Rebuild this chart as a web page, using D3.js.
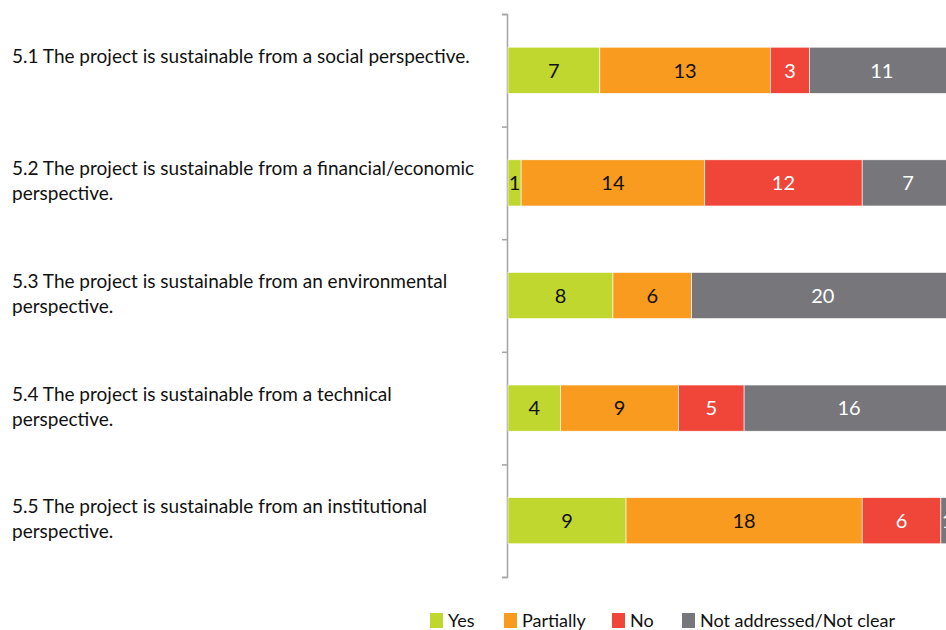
<!DOCTYPE html>
<html>
<head>
<meta charset="utf-8">
<script src="https://cdn.jsdelivr.net/npm/d3@7"></script>
<style>
  html, body { margin: 0; padding: 0; background: #fff; }
  svg { display: block; }
  text { font-family: Lato, "Noto Sans", sans-serif; }
</style>
</head>
<body>
<svg id="chart" width="946" height="630"></svg>
<script>
// Survey statements (line breaks mark how each label wraps)
const categories = [
  "5.1 The project is sustainable from a social perspective.",
  "5.2 The project is sustainable from a financial/economic\nperspective.",
  "5.3 The project is sustainable from an environmental\nperspective.",
  "5.4 The project is sustainable from a technical\nperspective.",
  "5.5 The project is sustainable from an institutional\nperspective."
];
const seriesNames = ["Yes", "Partially", "No", "Not addressed/Not clear"];
const yesValues       = [7, 1, 8, 4, 9];
const partiallyValues = [13, 14, 6, 9, 18];
const noValues        = [3, 12, 0, 5, 6];
const notClearValues  = [11, 7, 20, 16, 1];
const seriesColors = ["#c0d72f", "#f89b1e", "#ef4639", "#77777b"];
const labelColors  = ["#111", "#111", "#fff", "#fff"];

const rows = categories.map((c, i) => ({
  category: c,
  "Yes": yesValues[i],
  "Partially": partiallyValues[i],
  "No": noValues[i],
  "Not addressed/Not clear": notClearValues[i]
}));

const svg = d3.select("#chart");
const maxTotal = d3.max(rows, r => d3.sum(seriesNames, k => r[k]));

// The bars run past the right edge of the page
const x = d3.scaleLinear().domain([0, maxTotal]).range([508, 954]);
const y = d3.scaleBand().domain(categories).range([14, 577]).paddingInner(0.59).paddingOuter(0.295);
const yAxisScale = d3.scaleLinear().domain([0, categories.length]).range([14, 577]);

// Category axis: a plain line with ticks at band boundaries
svg.append("g")
  .attr("transform", "translate(507,0)")
  .call(d3.axisLeft(yAxisScale).ticks(categories.length).tickSize(5).tickFormat(""))
  .call(g => g.selectAll("path").attr("stroke", "#a7a7a9").attr("stroke-width", 1.6))
  .call(g => g.selectAll("line").attr("stroke", "#a7a7a9").attr("stroke-width", 1.6));

const stack = d3.stack().keys(seriesNames)(rows);

const layers = svg.append("g").selectAll("g")
  .data(stack)
  .join("g")
  .attr("fill", (d, i) => seriesColors[i]);

layers.selectAll("rect")
  .data(d => d.filter(p => p[1] > p[0]))
  .join("rect")
  .attr("x", d => x(d[0]))
  .attr("y", d => y(d.data.category))
  .attr("width", d => x(d[1]) - x(d[0]))
  .attr("height", y.bandwidth())
  .attr("stroke", "#fff")
  .attr("stroke-width", 0.6);

// Value labels centred in each segment
stack.forEach((layer, i) => {
  svg.append("g").selectAll("text")
    .data(layer.filter(p => p[1] > p[0]))
    .join("text")
    .attr("x", d => (x(d[0]) + x(d[1])) / 2)
    .attr("y", d => y(d.data.category) + y.bandwidth() / 2)
    .attr("dy", "0.36em")
    .attr("text-anchor", "middle")
    .attr("font-size", 20)
    .attr("fill", labelColors[i])
    .text(d => d[1] - d[0]);
});

// Statement labels on the left
const labelGroup = svg.append("g");
categories.forEach((c, i) => {
  const top = yAxisScale(i);
  const t = labelGroup.append("text")
    .attr("x", 12)
    .attr("y", top + 42)
    .attr("font-size", 19)
    .attr("fill", "#111");
  c.split("\n").forEach((line, j) => {
    t.append("tspan")
      .attr("x", 12)
      .attr("y", top + 42 + j * 25)
      .attr("dy", "0.36em")
      .text(line);
  });
});

// Legend
const legendX = [430, 504, 612, 682];
const legend = svg.append("g").selectAll("g")
  .data(seriesNames)
  .join("g")
  .attr("transform", (d, i) => `translate(${legendX[i]},613)`);
legend.append("rect")
  .attr("width", 13).attr("height", 15)
  .attr("fill", (d, i) => seriesColors[i]);
legend.append("text")
  .attr("x", 18).attr("y", 14)
  .attr("font-size", 18)
  .attr("fill", "#111")
  .text(d => d);
</script>
</body>
</html>
